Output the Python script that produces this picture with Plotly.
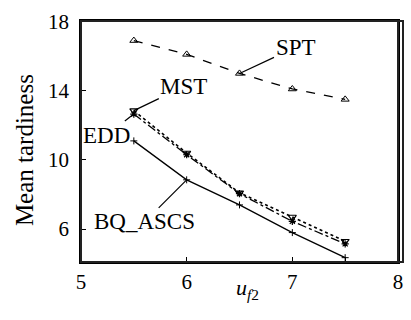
import plotly.graph_objects as go

x_vals = [5.5, 6, 6.5, 7, 7.5]
spt = [16.9, 16.1, 15.0, 14.1, 13.5]
mst = [12.85, 10.4, 8.1, 6.7, 5.3]
edd = [12.65, 10.3, 8.05, 6.45, 5.15]
bq = [11.1, 8.85, 7.4, 5.8, 4.35]

x_ticks = [5, 6, 7, 8]
x_minor = [7.5]
y_ticks = [6, 10, 14, 18]

FONT = "Liberation Serif"

fig = go.Figure()
fig.add_trace(go.Scatter(x=x_vals, y=spt, mode="lines+markers", name="SPT",
                         line=dict(color="black", width=1.3, dash="dash"),
                         marker=dict(symbol="triangle-up-open", size=7, color="black", line=dict(width=1))))
fig.add_trace(go.Scatter(x=x_vals, y=mst, mode="lines+markers", name="MST",
                         line=dict(color="black", width=1.6, dash="dot"),
                         marker=dict(symbol="triangle-down-open", size=7, color="black", line=dict(width=1.2))))
fig.add_trace(go.Scatter(x=x_vals, y=edd, mode="lines+markers", name="EDD",
                         line=dict(color="black", width=1.3, dash="dashdot"),
                         marker=dict(symbol="asterisk-open", size=6, color="black", line=dict(width=1.2))))
fig.add_trace(go.Scatter(x=x_vals, y=bq, mode="lines+markers", name="BQ_ASCS",
                         line=dict(color="black", width=1.3),
                         marker=dict(symbol="cross-thin-open", size=5, color="black", line=dict(width=1))))

ann_font = dict(family=FONT, size=23, color="black")
def leader(text, xv, yv, ax, ay):
    fig.add_annotation(x=xv, y=yv, text=text, showarrow=True, arrowhead=0,
                       arrowwidth=1.2, arrowcolor="black", ax=ax, ay=ay, font=ann_font)

leader("SPT", x_vals[2], spt[2], 56, -26)
leader("MST", x_vals[0], mst[0], 50, -24)
leader("EDD", x_vals[0], edd[0], -27, 21)
leader("BQ_ASCS", x_vals[1], bq[1], -42, 42)

fig.add_annotation(xref="paper", yref="paper", x=-0.225, y=0.465, text="Mean tardiness",
                   textangle=-90, showarrow=False, font=dict(family=FONT, size=25, color="black"))
fig.add_annotation(xref="paper", yref="paper", x=0.525, y=-0.178,
                   text="<i>u</i><sub><i>f</i>2</sub>", showarrow=False,
                   font=dict(family=FONT, size=22, color="black"))

fig.add_shape(type="rect", xref="paper", yref="paper", x0=0, y0=0, x1=1, y1=1,
              line=dict(color="#222222", width=2), layer="above")

fig.update_layout(
    width=411, height=320,
    margin=dict(l=81, r=8, t=21, b=58),
    paper_bgcolor="white", plot_bgcolor="white",
    showlegend=False,
    font=dict(family=FONT, size=21, color="black"),
)
fig.update_xaxes(range=[5, 8], tickvals=x_ticks, ticks="inside", ticklen=5,
                 tickwidth=1.2, tickcolor="black", showline=True, linecolor="black", linewidth=1.8,
                 mirror=True, showgrid=False, zeroline=False,
                 minor=dict(tickvals=x_minor, ticks="inside", ticklen=5, tickwidth=1.2, tickcolor="black", showgrid=False))
fig.update_yaxes(range=[4.1, 18.03], tickvals=y_ticks, ticks="inside", ticklen=5,
                 tickwidth=1.2, tickcolor="black", showline=True, linecolor="black", linewidth=1.8,
                 mirror=True, showgrid=False, zeroline=False, ticklabelstandoff=6)

border_js = (
    "document.body.style.margin='0';document.body.style.overflow='hidden';"
    "var b=document.createElement('div');"
    "b.style.cssText='position:absolute;left:80px;top:20px;width:324px;height:243px;"
    "box-sizing:border-box;border:2px solid #222;pointer-events:none;z-index:10;';"
    "document.body.appendChild(b);"
)
fig.write_html("out.html", config={"displayModeBar": False}, post_script=border_js)
